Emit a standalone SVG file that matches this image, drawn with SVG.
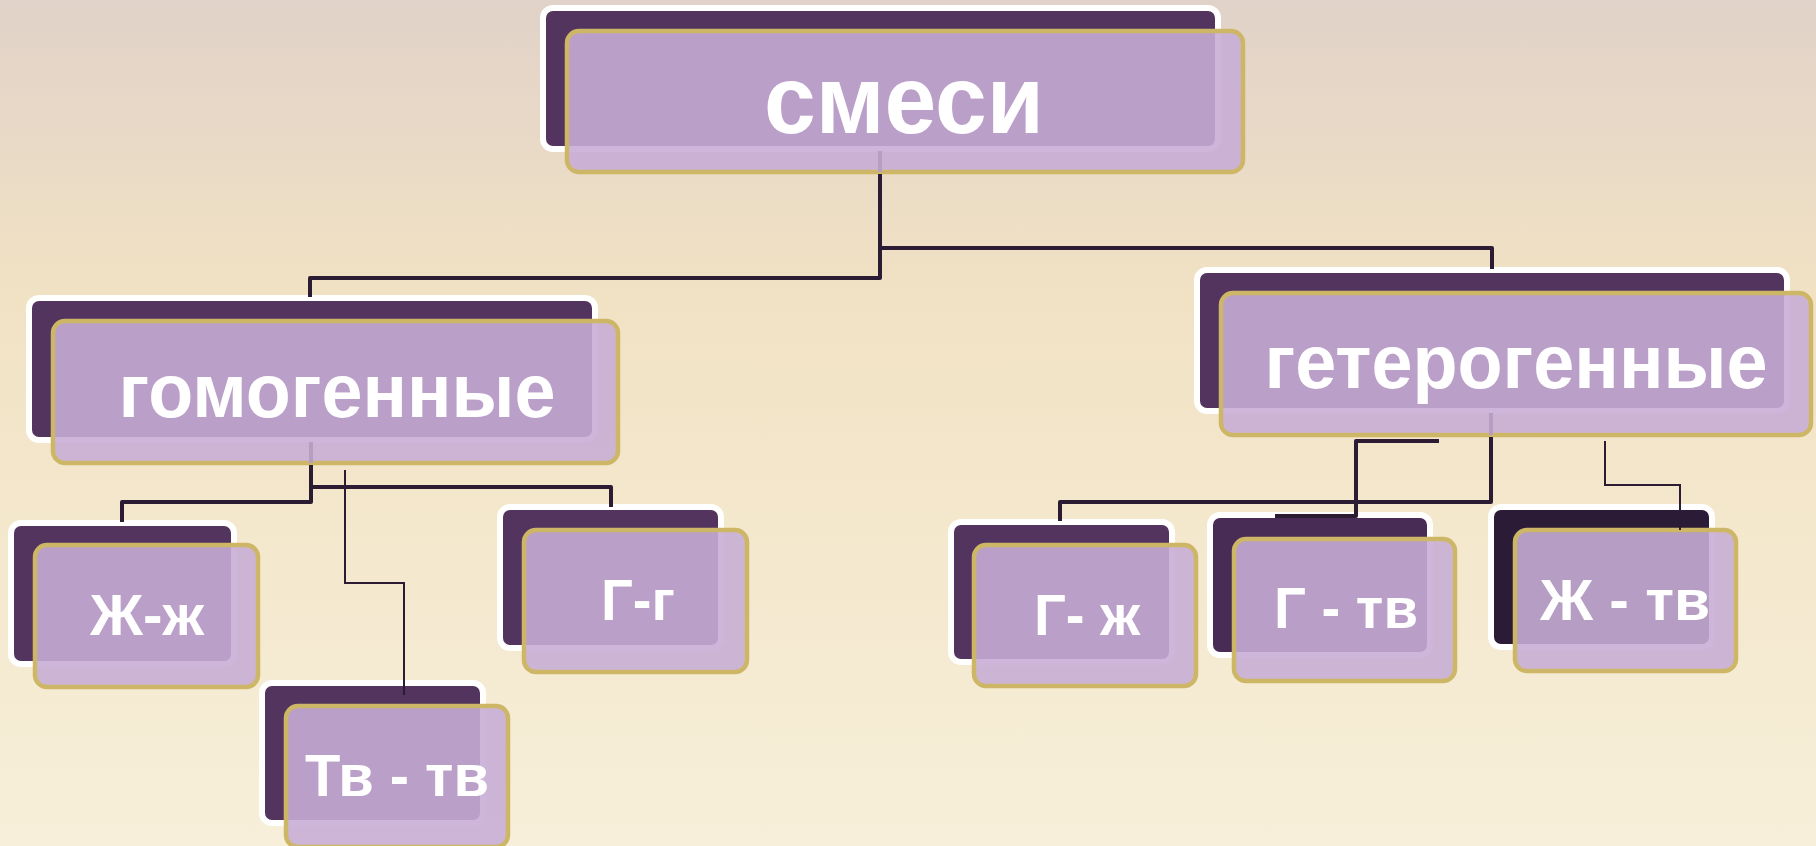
<svg xmlns="http://www.w3.org/2000/svg" width="1816" height="846" viewBox="0 0 1816 846">
<defs>
<linearGradient id="bg" x1="0" y1="0" x2="0" y2="1">
<stop offset="0" stop-color="#E1D2C9"/>
<stop offset="0.35" stop-color="#F1E2C4"/>
<stop offset="1" stop-color="#F7EFD9"/>
</linearGradient>
<style>
.back{fill:#52345F;stroke:#FFFFFF;stroke-width:6}
.front{fill:#C7ADD5;fill-opacity:0.89;stroke:#CDB766;stroke-width:4.5}
.lbl{font-family:"Liberation Sans",Arial,sans-serif;font-weight:bold;fill:#FFFFFF;text-anchor:middle}
.thick{fill:none;stroke:#2B1C33;stroke-width:4;stroke-linejoin:round}
.thin{fill:none;stroke:#2B1C33;stroke-width:2;stroke-linejoin:miter}
.faint{fill:none;stroke:#B69EC2;stroke-width:4}
</style>
</defs>
<rect x="0" y="0" width="1816" height="846" fill="url(#bg)"/>
<g id="node-smesi">
<rect class="back" x="543" y="8" width="675" height="141" rx="10"/>
<rect class="front" x="567" y="31" width="676" height="141" rx="12"/>
<text class="lbl" x="904" y="133" font-size="96" textLength="280" lengthAdjust="spacingAndGlyphs">смеси</text>
</g>
<g id="node-gomogennye">
<rect class="back" x="29" y="298" width="566" height="142" rx="10"/>
<rect class="front" x="53" y="321" width="565" height="142" rx="12"/>
<text class="lbl" x="337" y="417" font-size="76" textLength="437" lengthAdjust="spacingAndGlyphs">гомогенные</text>
</g>
<g id="node-geterogennye">
<rect class="back" x="1197" y="270" width="590" height="141" rx="10"/>
<rect class="front" x="1221" y="293" width="590" height="142" rx="12"/>
<text class="lbl" x="1516" y="388" font-size="76" textLength="503" lengthAdjust="spacingAndGlyphs">гетерогенные</text>
</g>
<g id="node-zh-zh">
<rect class="back" x="11" y="523" width="223" height="141" rx="10"/>
<rect class="front" x="35" y="545" width="223" height="142" rx="12"/>
<text class="lbl" x="147" y="635" font-size="58" textLength="114" lengthAdjust="spacingAndGlyphs">Ж-ж</text>
</g>
<g id="node-g-g">
<rect class="back" x="500" y="507" width="221" height="141" rx="10"/>
<rect class="front" x="524" y="530" width="223" height="142" rx="12"/>
<text class="lbl" x="638" y="620" font-size="58" textLength="74" lengthAdjust="spacingAndGlyphs">Г-г</text>
</g>
<g id="node-tv-tv">
<rect class="back" x="262" y="683" width="221" height="140" rx="10"/>
<rect class="front" x="286" y="706" width="222" height="141" rx="12"/>
<text class="lbl" x="397" y="796" font-size="59" textLength="184" lengthAdjust="spacingAndGlyphs">Тв - тв</text>
</g>
<g id="node-g-zh">
<rect class="back" x="951" y="522" width="221" height="140" rx="10"/>
<rect class="front" x="974" y="545" width="222" height="141" rx="12"/>
<text class="lbl" x="1087" y="635" font-size="58" textLength="106" lengthAdjust="spacingAndGlyphs">Г- ж</text>
</g>
<g id="node-g-tv">
<rect class="back" x="1210" y="515" width="220" height="140" rx="10" style="fill:#482C56"/>
<rect class="front" x="1234" y="539" width="221" height="142" rx="12"/>
<text class="lbl" x="1346" y="628" font-size="57" textLength="144" lengthAdjust="spacingAndGlyphs">Г - тв</text>
</g>
<g id="node-zh-tv">
<rect class="back" x="1491" y="507" width="221" height="140" rx="10" style="fill:#2C1B36"/>
<rect class="front" x="1515" y="530" width="221" height="141" rx="12"/>
<text class="lbl" x="1625" y="620" font-size="58" textLength="170" lengthAdjust="spacingAndGlyphs">Ж - тв</text>
</g>
<g id="connectors">
<path class="faint" d="M880,151 V172 M311,442 V463 M1491,413 V435"/>
<path class="thick" d="M880,174 V278 H310 V297"/>
<path class="thick" d="M880,248 H1492 V269"/>
<path class="thick" d="M311,465 V502 H122 V522"/>
<path class="thick" d="M311,487 H611 V507"/>
<path class="thin" d="M345,470 V583 H404 V695"/>
<path class="thick" d="M1491,437 V502 H1060 V521"/>
<path class="thick" d="M1439,441 H1356 V516 H1275"/>
<path class="thin" d="M1605,441 V485 H1680 V530"/>
</g>
</svg>
